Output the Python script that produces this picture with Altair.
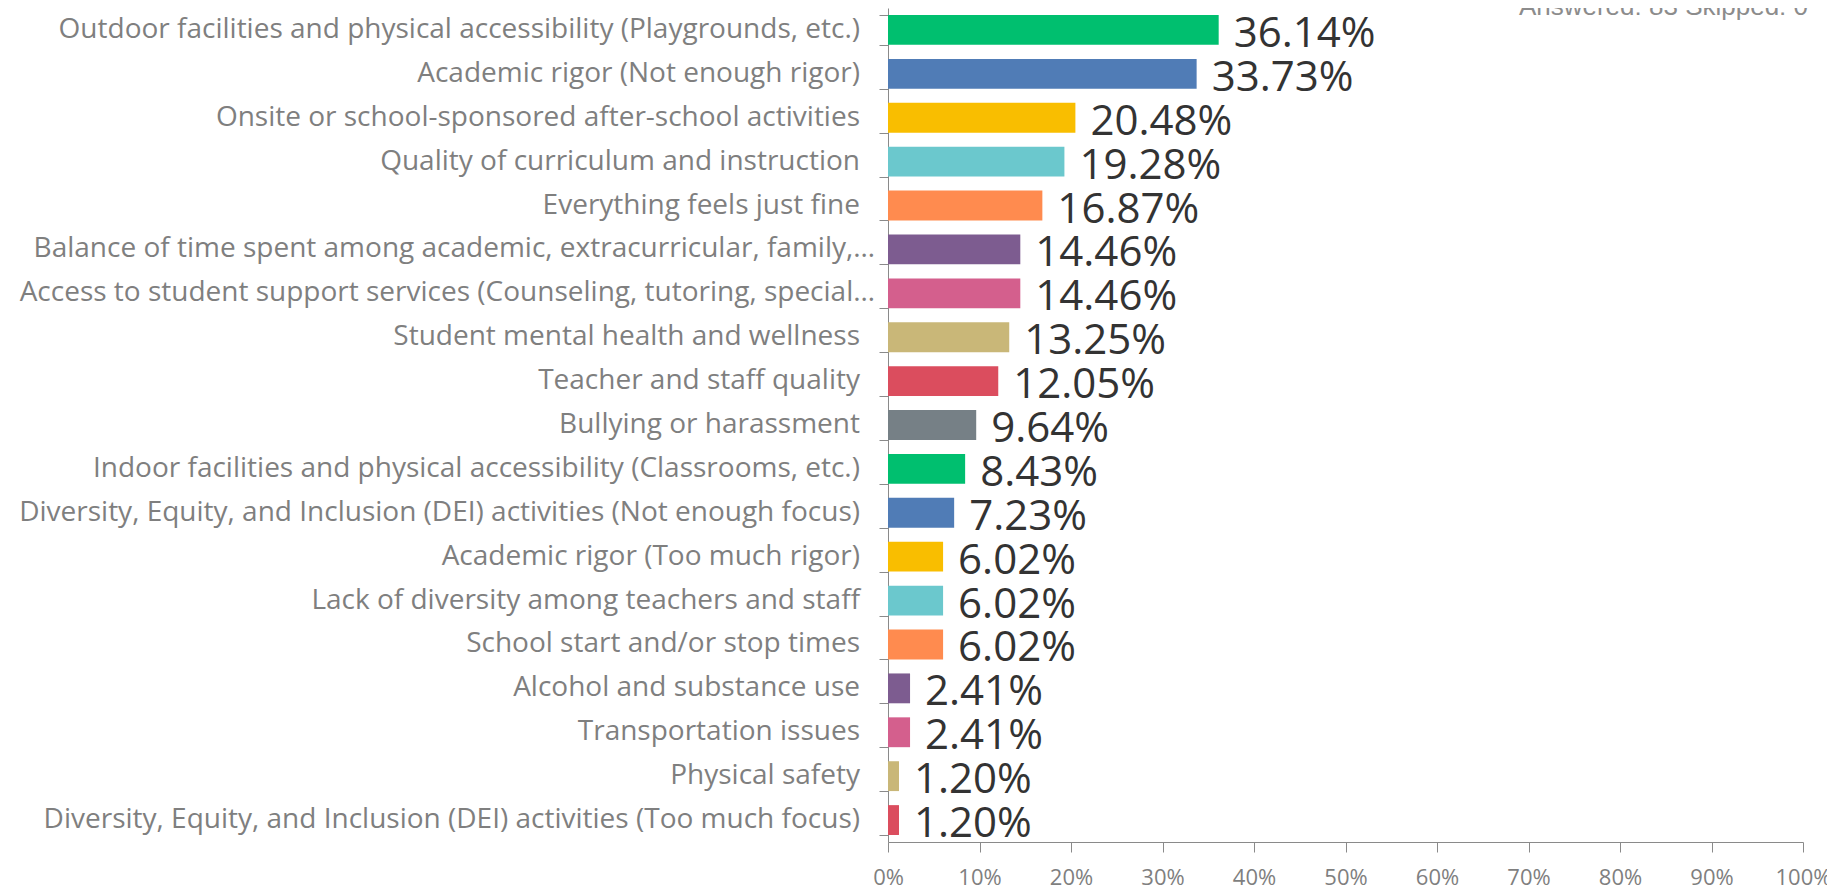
import altair as alt
import pandas as pd

categories = [
    "Outdoor facilities and physical accessibility (Playgrounds, etc.)",
    "Academic rigor (Not enough rigor)",
    "Onsite or school-sponsored after-school activities",
    "Quality of curriculum and instruction",
    "Everything feels just fine",
    "Balance of time spent among academic, extracurricular, family,\u2026",
    "Access to student support services (Counseling, tutoring, special\u2026",
    "Student mental health and wellness",
    "Teacher and staff quality",
    "Bullying or harassment",
    "Indoor facilities and physical accessibility (Classrooms, etc.)",
    "Diversity, Equity, and Inclusion (DEI) activities (Not enough focus)",
    "Academic rigor (Too much rigor)",
    "Lack of diversity among teachers and staff",
    "School start and/or stop times",
    "Alcohol and substance use",
    "Transportation issues",
    "Physical safety",
    "Diversity, Equity, and Inclusion (DEI) activities (Too much focus)",
]
values = [36.14, 33.73, 20.48, 19.28, 16.87, 14.46, 14.46, 13.25, 12.05, 9.64,
          8.43, 7.23, 6.02, 6.02, 6.02, 2.41, 2.41, 1.20, 1.20]
colors = ["#00BF6F", "#507CB6", "#F9BE00", "#6BC8CD", "#FF8B4F", "#7D5C90",
          "#D45F8D", "#C9B778", "#DB4D5E", "#768086",
          "#00BF6F", "#507CB6", "#F9BE00", "#6BC8CD", "#FF8B4F", "#7D5C90",
          "#D45F8D", "#C9B778", "#DB4D5E"]
x_ticks = [0, 0.1, 0.2, 0.3, 0.4, 0.5, 0.6, 0.7, 0.8, 0.9, 1.0]
summary = "Answered: 83   Skipped: 0"

df = pd.DataFrame({"category": categories, "value": values})
df["frac"] = df["value"] / 100
df["label"] = df["value"].map(lambda v: f"{v:.2f}%")

GRAY = "#8a8a8a"
LABEL_GRAY = "#7f7f7f"

y_enc = alt.Y(
    "category:N",
    sort=categories,
    scale=alt.Scale(paddingInner=0.32, paddingOuter=0.16),
    axis=alt.Axis(
        title=None,
        tickBand="extent",
        tickSize=9,
        tickColor=GRAY,
        domainColor=GRAY,
        labels=False,
    ),
)
x_enc = alt.X(
    "frac:Q",
    scale=alt.Scale(domain=[0, 1], nice=False),
    axis=alt.Axis(
        title=None,
        values=x_ticks,
        format=".0%",
        grid=False,
        tickSize=10,
        tickColor=GRAY,
        domainColor=GRAY,
        labelFont="Open Sans",
        labelFontSize=22,
        labelColor=LABEL_GRAY,
        labelPadding=15,
        labelFlush=False,
    ),
)

bars = alt.Chart(df).mark_bar().encode(
    x=x_enc,
    y=y_enc,
    color=alt.Color("category:N", scale=alt.Scale(domain=categories, range=colors), legend=None),
)

y_plain = alt.Y("category:N", sort=categories)
truncated = "indexof(datum.category, '\u2026') >= 0"

cat_full = alt.Chart(df).transform_filter(
    "!(" + truncated + ")"
).mark_text(
    align="right", baseline="middle", font="Open Sans", fontSize=28, color=LABEL_GRAY,
).encode(x=alt.value(-28), y=y_plain, text="category:N")

cat_trunc = alt.Chart(df).transform_filter(truncated).mark_text(
    align="right", baseline="middle", font="Open Sans", fontSize=28, color=LABEL_GRAY,
).encode(x=alt.value(-13), y=y_plain, text="category:N")

texts = alt.Chart(df).mark_text(
    align="left", baseline="alphabetic", dx=15, dy=17,
    font="Open Sans", fontSize=42, color="#333333",
).encode(
    x="frac:Q",
    y=y_plain,
    text="label:N",
)

note = alt.Chart(pd.DataFrame({"t": [summary]})).mark_text(
    align="right", baseline="alphabetic", font="Liberation Sans", fontSize=26, color="#8c8c8c",
).encode(
    x=alt.value(920),
    y=alt.value(7),
    text="t:N",
)

chart = alt.layer(bars, cat_full, cat_trunc, texts, note).properties(
    width=915,
    height=834,
    padding={"left": 880, "top": 0, "right": 24, "bottom": 48},
    autosize=alt.AutoSizeParams(type="none"),
).configure_view(stroke=None)

chart.save("out.html", embed_options={"renderer": "svg", "actions": False})
